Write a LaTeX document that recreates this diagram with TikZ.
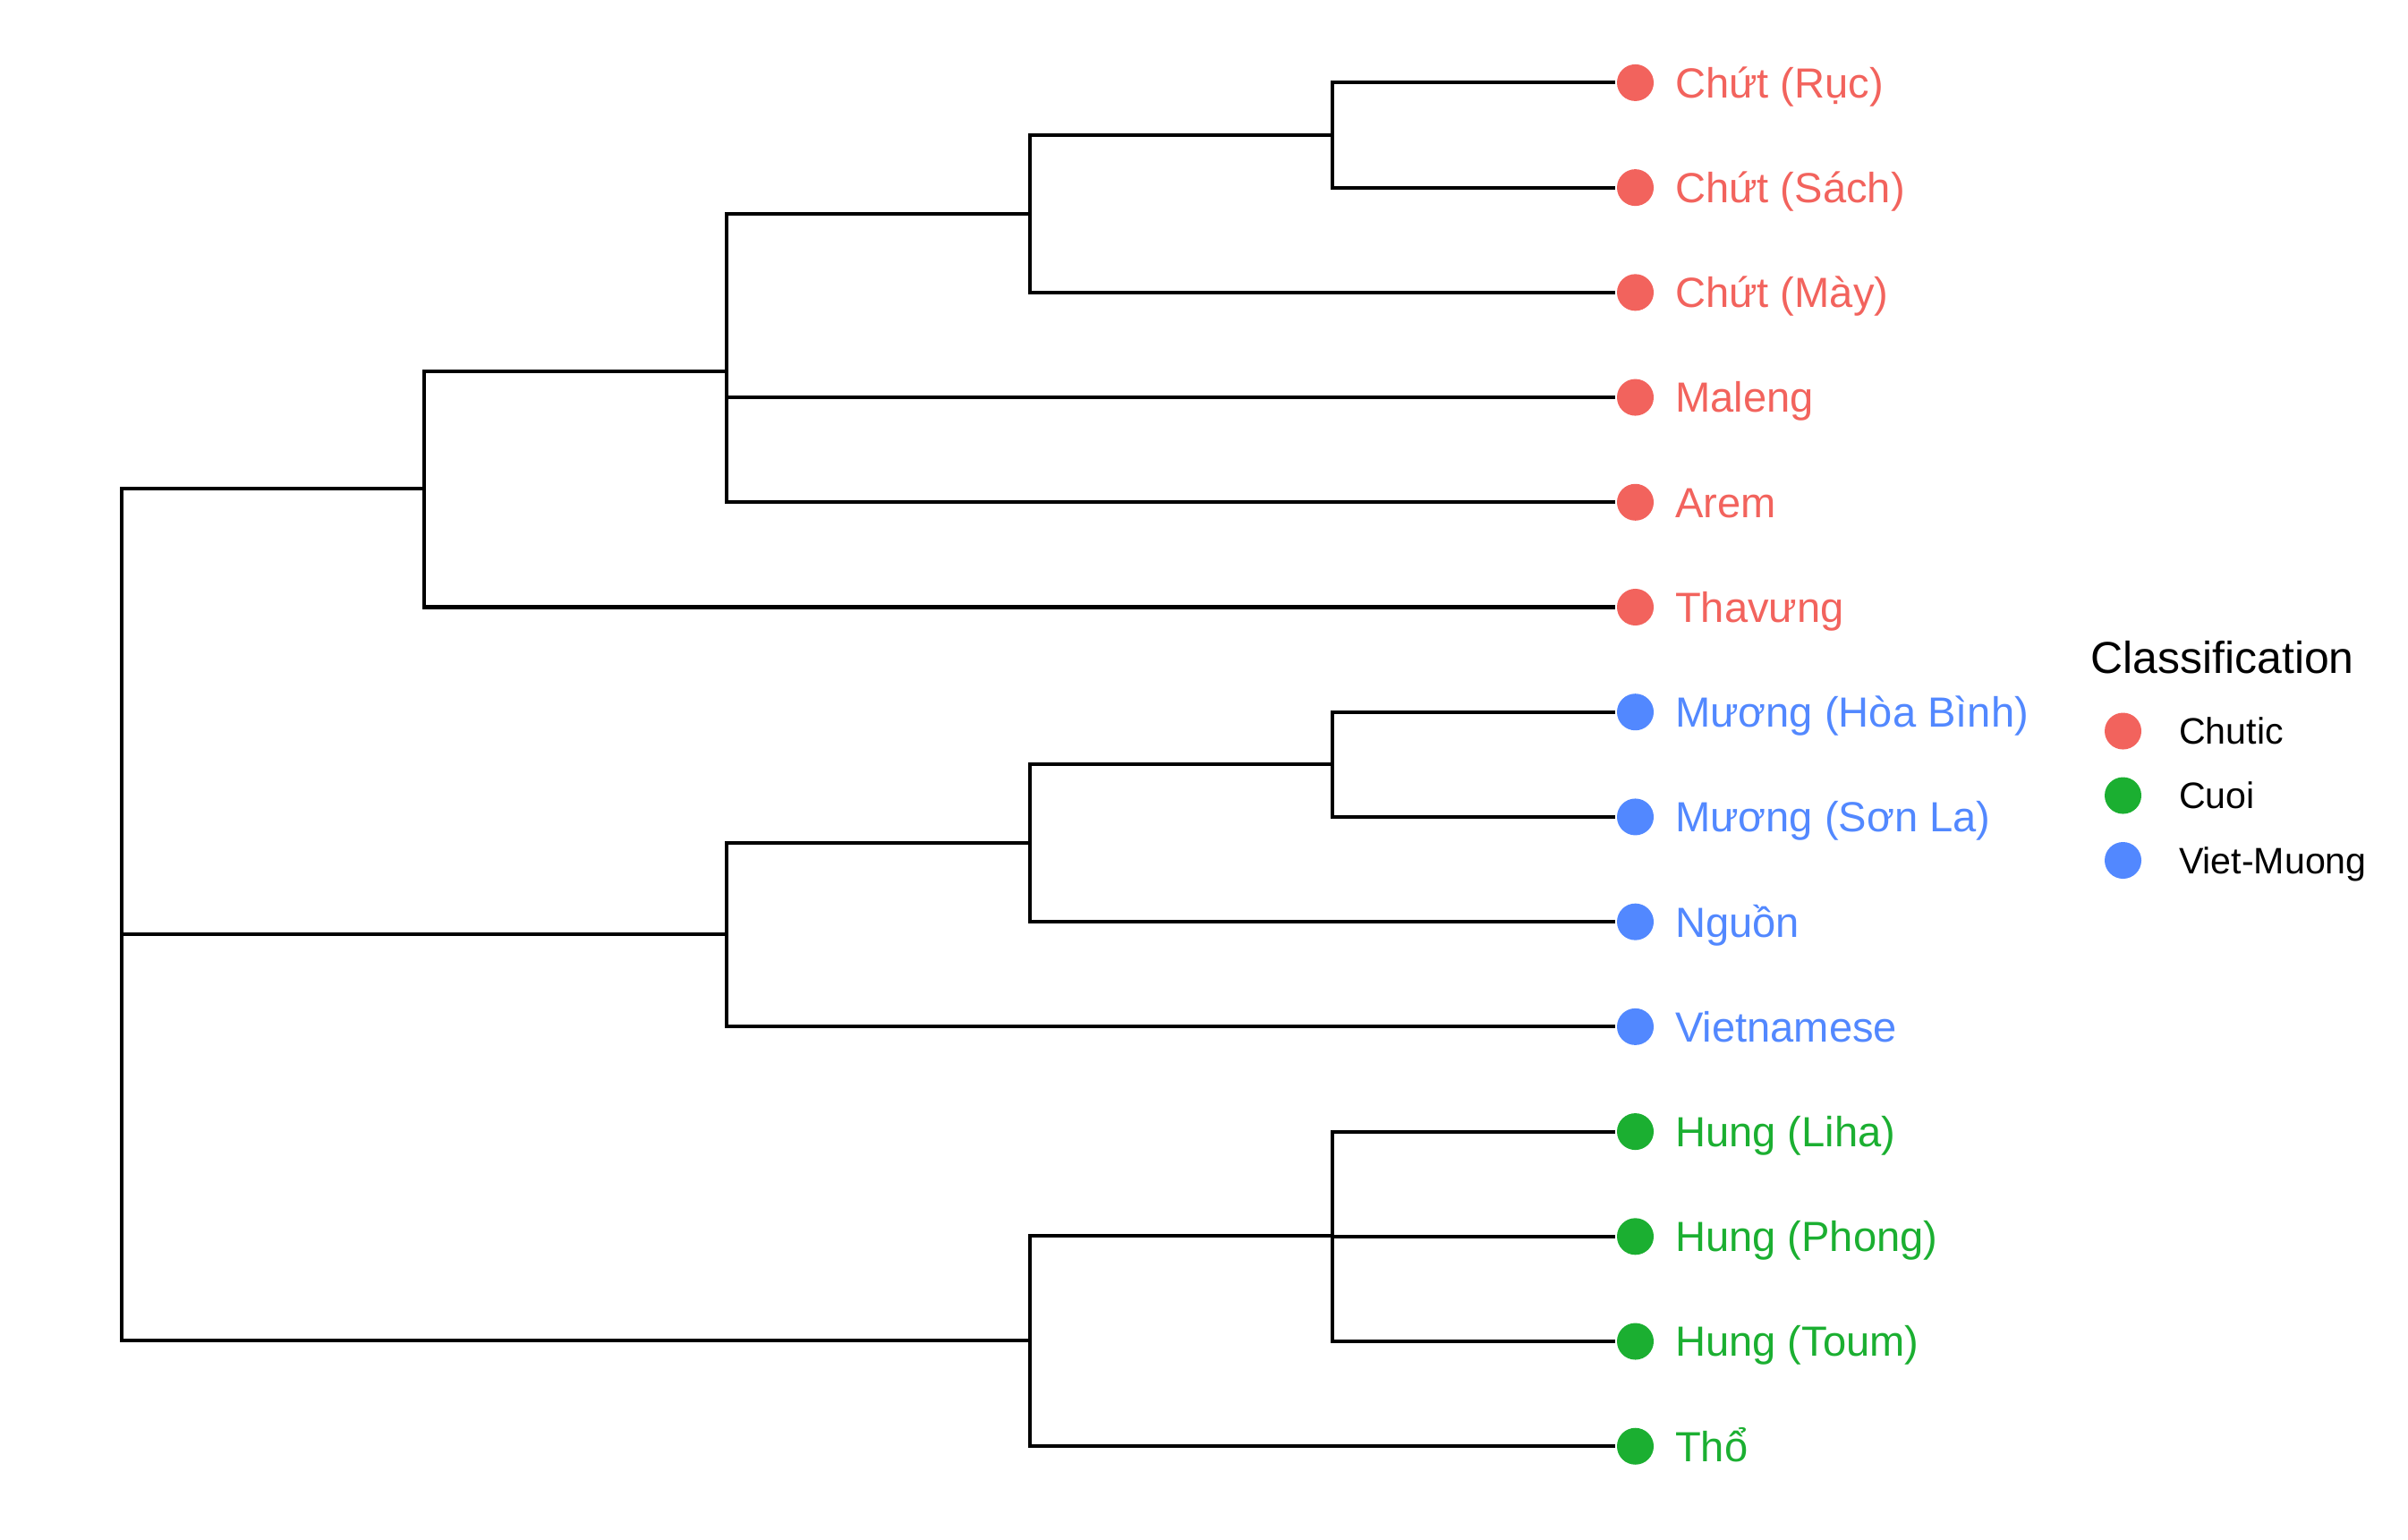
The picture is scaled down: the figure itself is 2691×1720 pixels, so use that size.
\documentclass[tikz,border=0pt]{standalone}
\usepackage{fontspec}
\setmainfont{Liberation Sans}
\usetikzlibrary{positioning}
\definecolor{chutic}{RGB}{242,99,93}
\definecolor{cuoi}{RGB}{27,175,49}
\definecolor{vietmuong}{RGB}{82,136,255}

\begin{document}
\begin{tikzpicture}[x=0.01cm,y=-0.01cm,line width=1.15pt,node distance=1.1715cm,
  leaf/.style={circle,fill,inner sep=0pt,minimum size=0.41cm},
  leaf label/.style={inner sep=0pt,text height=9.6pt,text depth=0pt,font=\fontsize{13.4pt}{16pt}\selectfont},
  key label/.style={inner sep=0pt,text height=8.4pt,text depth=0pt,font=\fontsize{11.7pt}{14pt}\selectfont},
  elbow/.style={to path={|- (\tikztotarget) \tikztonodes}}]

\useasboundingbox (0,0) rectangle (2691,1720);

        \node[leaf,chutic]    (0) at (1827.5,92.4) {};
        \node[leaf,chutic]    (1) [below of=0]  {};
        \node[leaf,chutic]    (2) [below of=1]  {};
        \node[leaf,chutic]    (3) [below of=2]  {};
        \node[leaf,chutic]    (4) [below of=3]  {};
        \node[leaf,chutic]    (5) [below of=4]  {};
        \node[leaf,vietmuong] (6) [below of=5]  {};
        \node[leaf,vietmuong] (7) [below of=6]  {};
        \node[leaf,vietmuong] (8) [below of=7]  {};
        \node[leaf,vietmuong] (9) [below of=8]  {};
        \node[leaf,cuoi]      (10) [below of=9]  {};
        \node[leaf,cuoi]      (11) [below of=10] {};
        \node[leaf,cuoi]      (12) [below of=11] {};
        \node[leaf,cuoi]      (13) [below of=12] {};

        \coordinate (14) at (1489.15,151.0);
        \coordinate (15) at (1150.8,238.85);
        \coordinate (16) at (812.45,414.6);
        \coordinate (17) at (474.1,546.4);
        \coordinate (18) at (1489.15,853.9);
        \coordinate (19) at (1150.8,941.75);
        \coordinate (20) at (812.45,1044.3);
        \coordinate (21) at (1489.15,1381.05);
        \coordinate (22) at (1150.8,1498.25);
        \coordinate (23) at (135.75,1029.65);

          \path
            (23) edge [elbow] (17)
                 edge [elbow] (20)
                 edge [elbow] (22)
            (17) edge [elbow] (16)
                 edge [elbow] (5)
            (16) edge [elbow] (15)
                 edge [elbow] (3)
                 edge [elbow] (4)
            (15) edge [elbow] (14)
                 edge [elbow] (2)
            (14) edge [elbow] (0)
                 edge [elbow] (1)
            (20) edge [elbow] (19)
                 edge [elbow] (9)
            (19) edge [elbow] (18)
                 edge [elbow] (8)
            (18) edge [elbow] (6)
                 edge [elbow] (7)
            (22) edge [elbow] (21)
                 edge [elbow] (13)
            (21) edge [elbow] (10)
                 edge [elbow] (11)
                 edge [elbow] (12);

        \node[leaf label,text=chutic,right=0.2cm of 0]     (t0)  {Chứt (Rục)};
        \node[leaf label,text=chutic,right=0.2cm of 1]     (t1)  {Chứt (Sách)};
        \node[leaf label,text=chutic,right=0.2cm of 2]     (t2)  {Chứt (Mày)};
        \node[leaf label,text=chutic,right=0.2cm of 3]     (t3)  {Maleng};
        \node[leaf label,text=chutic,right=0.2cm of 4]     (t4)  {Arem};
        \node[leaf label,text=chutic,right=0.2cm of 5]     (t5)  {Thavưng};
        \node[leaf label,text=vietmuong,right=0.2cm of 6]  (t6)  {Mương (Hòa Bình)};
        \node[leaf label,text=vietmuong,right=0.2cm of 7]  (t7)  {Mương (Sơn La)};
        \node[leaf label,text=vietmuong,right=0.2cm of 8]  (t8)  {Nguồn};
        \node[leaf label,text=vietmuong,right=0.2cm of 9]  (t9)  {Vietnamese};
        \node[leaf label,text=cuoi,right=0.2cm of 10]      (t10) {Hung (Liha)};
        \node[leaf label,text=cuoi,right=0.2cm of 11]      (t11) {Hung (Phong)};
        \node[leaf label,text=cuoi,right=0.2cm of 12]      (t12) {Hung (Toum)};
        \node[leaf label,text=cuoi,right=0.2cm of 13]      (t13) {Thổ};

        \node[anchor=base west,inner sep=0pt,font=\fontsize{14.2pt}{17pt}\selectfont] (title) at (2334.5,752.5) {Classification};
        \node[leaf,chutic]    (k0) at (2372.5,817) {};
        \node[leaf,cuoi]      (k1) at (2372.5,889) {};
        \node[leaf,vietmuong] (k2) at (2372.5,961.5) {};
        \node[key label,right=0.38cm of k0] (c0) {Chutic};
        \node[key label,right=0.38cm of k1] (c1) {Cuoi};
        \node[key label,right=0.38cm of k2] (c2) {Viet-Muong};
\end{tikzpicture}
\end{document}
